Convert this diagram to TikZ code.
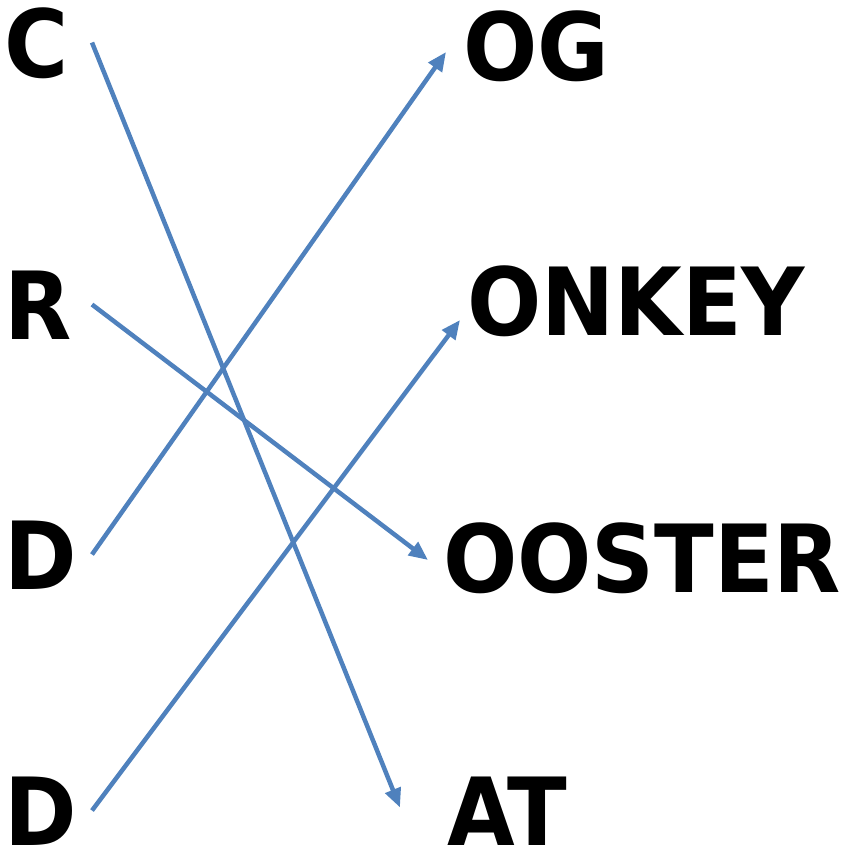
\documentclass[tikz,border=0pt]{standalone}
\usepackage{fontspec}
\usepackage{tikz}
\usetikzlibrary{arrows.meta, calc}
\newfontfamily\lblfont{DejaVu Sans}[FakeStretch=0.93]
\definecolor{linkblue}{HTML}{4F81BD}

\tikzset{
    word/.style={anchor=base west, inner sep=0pt, outer sep=0pt, text height=69pt, text depth=0pt,
        font=\lblfont\bfseries\fontsize{94}{94}\selectfont},
    letter/.style={word, text width=87pt, align=left},
    link/.style={linkblue, line width=4.5pt, -{Triangle[length=19pt,width=16pt]}}
}

\begin{document}
\begin{tikzpicture}[x=1pt, y=-1pt]
        \useasboundingbox (0,0) rectangle (846,852);

        \node[letter] (c) at (5,77) {C};
        \node[letter] (r) at (5,339) {R};
        \node[letter] (d1) at (5,589) {D};
        \node[letter] (d2) at (5,845) {D};

        \node[word] (og) at (463,80) {OG};
        \node[word] (onkey) at (467,335) {ONKEY};
        \node[word] (ooster) at (443,592) {OOSTER};
        \node[word] (at) at (447,845) {AT};

        \draw[link] (c.east) -- ($(at.west)+(-47,-3)$);
        \draw[link] (r.east) -- ($(ooster.west)+(-15,2.5)$);
        \draw[link] (d1.east) -- ($(og.west)+(-17,6.5)$);
        \draw[link] (d2.east) -- ($(onkey.west)+(-7,19.5)$);
    \end{tikzpicture}
\end{document}
